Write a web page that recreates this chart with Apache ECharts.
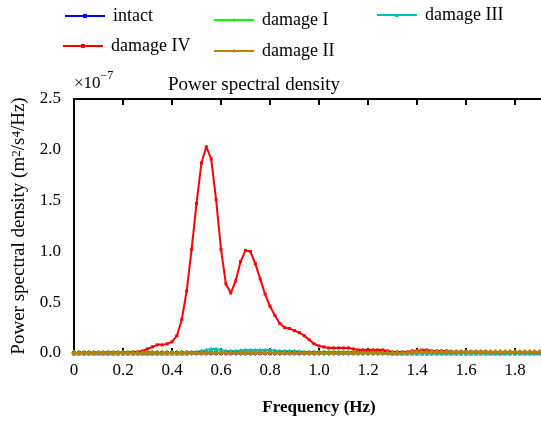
<!DOCTYPE html>
<html lang="en">
<head>
<meta charset="UTF-8">
<title>Power spectral density</title>
<script src="https://cdn.jsdelivr.net/npm/echarts@6/dist/echarts.min.js"></script>
<style>body{margin:0;overflow:hidden;background:#fff}</style>
</head>
<body>
<div id="main" style="width: 600px; height: 421px;"></div>
<script>
    // frequency grid, 0 .. 2.0 Hz in 0.02 Hz steps
    const freq = [];
    for (let i = 0; i <= 100; i++) freq.push(+(i * 0.02).toFixed(2));

    // PSD values, in units of 1e-7 m^2/s^4/Hz
    const intact = [
        0, 0, 0, 0, 0, 0, 0, 0, 0, 0,
        0, 0, 0, 0, 0, 0, 0, 0, 0, 0,
        0, 0, 0, 0, 0, 0, 0, 0, 0, 0,
        0, 0, 0, 0, 0, 0, 0, 0, 0, 0,
        0, 0, 0, 0, 0, 0, 0, 0, 0, 0,
        0, 0, 0, 0, 0, 0, 0, 0, 0, 0,
        0, 0, 0, 0, 0, 0, 0, 0, 0, 0,
        0, 0.005, 0.005, 0.005, 0.005, 0.005, 0.005, 0.005, 0.005, 0.005,
        0.005, 0.005, 0.005, 0.005, 0.005, 0, 0, 0, 0, 0,
        0, 0, 0, 0, 0, 0, 0, 0, 0, 0,
        0
    ];
    const damage1 = [
        0, 0, 0, 0, 0, 0, 0, 0, 0, 0,
        0, 0, 0, 0, 0, 0, 0, 0, 0, 0,
        0, 0, 0, 0, 0, 0, 0, 0, 0, 0,
        0, 0, 0, 0, 0, 0, 0, 0, 0, 0,
        0, 0, 0, 0, 0, 0, 0, 0, 0, 0,
        0, 0, 0, 0, 0, 0, 0, 0, 0, 0,
        0, 0, 0, 0, 0, 0, 0, 0, 0, 0,
        0, 0, 0, 0, 0, 0, 0, 0, 0, 0,
        0, 0, 0, 0, 0, 0, 0, 0, 0, 0,
        0, 0, 0, 0, 0, 0, 0, 0, 0, 0,
        0
    ];
    const damage3 = [
        0, 0, 0, 0, 0, 0, 0, 0, 0, 0,
        0, 0, 0, 0, 0, 0, 0, 0, 0, 0,
        0, 0, 0, 0, 0.005, 0.01, 0.02, 0.03, 0.04, 0.04,
        0.03, 0.02, 0.02, 0.02, 0.025, 0.03, 0.03, 0.03, 0.03, 0.03,
        0.03, 0.025, 0.02, 0.02, 0.02, 0.02, 0.015, 0.01, 0.01, 0.01,
        0.005, 0.005, 0.005, 0.005, 0.005, 0.005, 0.005, 0.005, 0.005, 0.005,
        0.005, 0.005, 0.005, 0.005, 0.005, 0, 0, 0, 0, 0,
        0, 0, 0, 0, 0, 0, 0, 0, 0, 0,
        0, 0, 0, 0, 0, 0, 0, 0, 0, 0,
        0, 0, 0, 0, 0, 0, 0, 0, 0, 0,
        0
    ];
    const damage4 = [
        0, 0, 0, 0, 0, 0, 0, 0.005, 0.005, 0.005,
        0.005, 0.005, 0.01, 0.01, 0.02, 0.04, 0.06, 0.08, 0.08, 0.09,
        0.11, 0.17, 0.33, 0.61, 1.02, 1.47, 1.87, 2.03, 1.91, 1.51,
        1.02, 0.68, 0.59, 0.71, 0.90, 1.01, 1.00, 0.88, 0.73, 0.58,
        0.46, 0.37, 0.29, 0.25, 0.24, 0.22, 0.20, 0.17, 0.13, 0.09,
        0.07, 0.06, 0.05, 0.05, 0.05, 0.05, 0.05, 0.04, 0.03, 0.03,
        0.03, 0.03, 0.03, 0.03, 0.02, 0.01, 0.01, 0.01, 0.01, 0.02,
        0.02, 0.03, 0.03, 0.02, 0.02, 0.02, 0.02, 0.01, 0.01, 0.01,
        0.01, 0.01, 0.01, 0.01, 0.01, 0.005, 0.005, 0.005, 0.005, 0.005,
        0.005, 0.005, 0.005, 0.005, 0.005, 0.005, 0.005, 0.005, 0.005, 0.005,
        0.005
    ];
    const damage2 = [
        0, 0, 0, 0, 0, 0, 0, 0, 0, 0,
        0, 0, 0, 0, 0, 0, 0, 0, 0, 0,
        0, 0, 0, 0, 0, 0, 0, 0, 0, 0,
        0, 0, 0, 0, 0, 0, 0, 0, 0, 0,
        0, 0, 0, 0, 0, 0, 0, 0, 0, 0,
        0, 0, 0, 0, 0, 0, 0, 0, 0, 0,
        0, 0, 0, 0, 0, 0, 0, 0, 0, 0.01,
        0.01, 0.01, 0.01, 0.01, 0.01, 0.01, 0.01, 0.01, 0.01, 0.01,
        0.01, 0.01, 0.01, 0.01, 0.01, 0.01, 0.01, 0.01, 0.01, 0.01,
        0.01, 0.01, 0.01, 0.01, 0.01, 0.01, 0.01, 0.01, 0.01, 0.01,
        0.01
    ];

    const yTicks = [0, 0.5, 1.0, 1.5, 2.0, 2.5];

    const FONT = 'Liberation Serif';
    const pair = arr => freq.map((f, i) => [f, arr[i]]);

    function mkSeries(name, arr, color, symbol, size) {
        return {
            name: name,
            type: 'line',
            data: pair(arr),
            symbol: symbol,
            symbolSize: size,
            clip: false,
            animation: false,
            lineStyle: { color: color, width: 2 },
            itemStyle: { color: color }
        };
    }

    function mkLegend(name, left, top) {
        return {
            data: [name], left: left, top: top, padding: 0,
            itemWidth: 40, itemHeight: 5, itemGap: 0,
            textStyle: { fontFamily: FONT, fontSize: 18, color: '#000', padding: [0, 0, 0, 3] }
        };
    }

    var myChart = echarts.init(document.getElementById('main'));
    var option = {
        animation: false,
        backgroundColor: '#fff',
        title: {
            text: 'Power spectral density',
            left: 163, top: 71,
            textStyle: { fontFamily: FONT, fontSize: 19, fontWeight: 'normal', color: '#000' }
        },
        graphic: [{
            type: 'text', left: 74, top: 70,
            style: {
                text: '{a|×10}{b|−7}',
                rich: {
                    a: { fontFamily: FONT, fontSize: 17, lineHeight: 22, verticalAlign: 'bottom', fill: '#000' },
                    b: { fontFamily: FONT, fontSize: 12, lineHeight: 22, verticalAlign: 'top', fill: '#000' }
                }
            }
        }],
        legend: [
            mkLegend('intact', 64, 7),
            mkLegend('damage I', 213, 11),
            mkLegend('damage III', 376, 6),
            mkLegend('damage IV', 62, 37),
            mkLegend('damage II', 213, 42)
        ],
        grid: { left: 74, top: 99, right: 36, bottom: 68 },
        xAxis: [{
            type: 'value', min: 0, max: 2, interval: 0.2,
            name: 'Frequency (Hz)', nameLocation: 'middle', nameGap: 46,
            nameTextStyle: { fontFamily: FONT, fontSize: 17, fontWeight: 'bold', color: '#000' },
            axisLine: { onZero: false, lineStyle: { color: '#000', width: 2 } },
            axisTick: { inside: true, length: 5, lineStyle: { color: '#000', width: 2 } },
            axisLabel: {
                fontFamily: FONT, fontSize: 17, color: '#000', margin: 9,
                formatter: v => v === 0 ? '0' : v.toFixed(1)
            },
            splitLine: { show: false }
        }, {
            type: 'value', min: 0, max: 2, interval: 0.2, position: 'top',
            axisLine: { show: true, onZero: false, lineStyle: { color: '#000', width: 2 } },
            axisTick: { show: true, inside: true, length: 6, lineStyle: { color: '#000', width: 2 } },
            axisLabel: { show: false },
            splitLine: { show: false }
        }],
        yAxis: [{
            type: 'value', min: yTicks[0], max: yTicks[yTicks.length - 1], interval: 0.5,
            name: 'Power spectral density (m{s|2}/s{s|4}/Hz)', nameLocation: 'middle', nameGap: 41,
            nameTextStyle: {
                fontFamily: FONT, fontSize: 19, color: '#000',
                rich: { s: { fontFamily: FONT, fontSize: 13, verticalAlign: 'top', color: '#000' } }
            },
            axisLine: { show: true, onZero: false, lineStyle: { color: '#000', width: 2 } },
            axisTick: { show: false },
            axisLabel: {
                fontFamily: FONT, fontSize: 17, color: '#000', margin: 13,
                formatter: v => v.toFixed(1)
            },
            splitLine: { show: false }
        }, {
            type: 'value', min: 0, max: 2.5, interval: 0.5, position: 'right',
            axisLine: { show: true, onZero: false, lineStyle: { color: '#000', width: 2 } },
            axisTick: { show: false }, axisLabel: { show: false }, splitLine: { show: false }
        }],
        series: [
            mkSeries('intact', intact, '#0000ff', 'rect', 4),
            mkSeries('damage I', damage1, '#00ff00', 'path://M4,0H6V4H10V6H6V10H4V6H0V4H4Z', 6),
            mkSeries('damage III', damage3, '#00bfbf', 'triangle', 5),
            mkSeries('damage IV', damage4, '#ff0000', 'rect', 3),
            mkSeries('damage II', damage2, '#bf7f00', 'diamond', 6)
        ]
    };
    myChart.setOption(option);
</script>
</body>
</html>
